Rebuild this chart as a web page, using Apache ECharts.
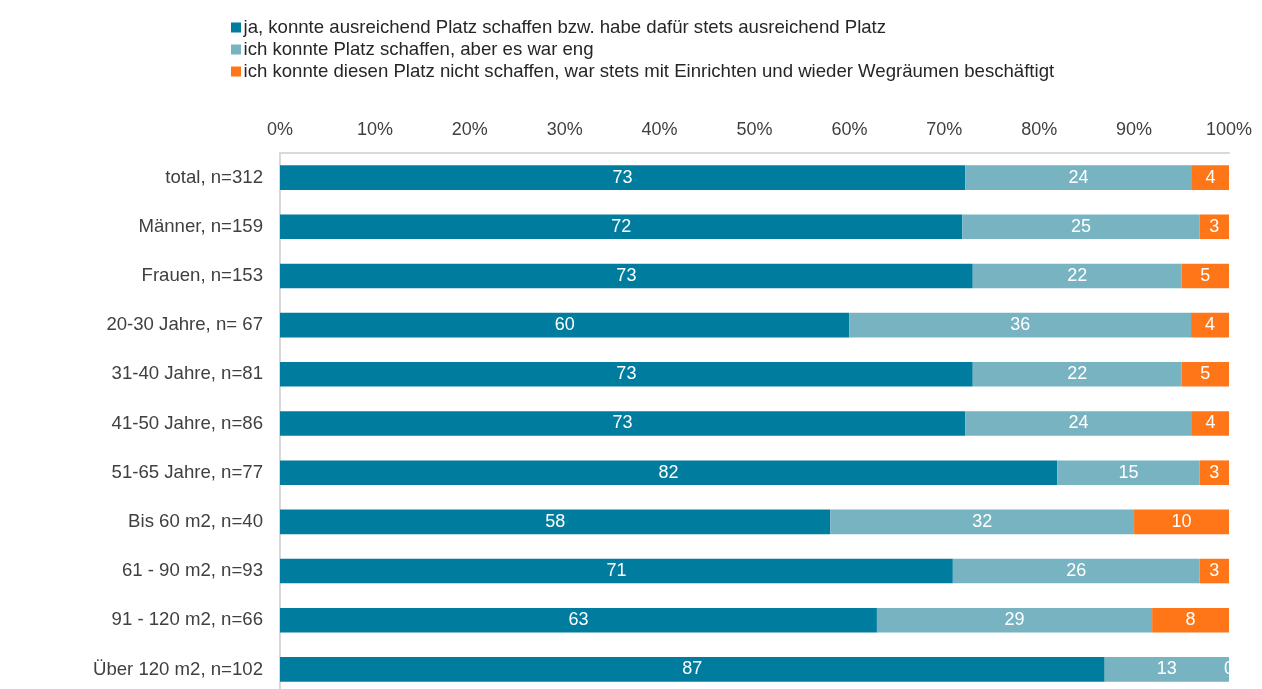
<!DOCTYPE html>
<html>
<head>
<meta charset="utf-8">
<script src="https://cdn.jsdelivr.net/npm/echarts@6/dist/echarts.min.js"></script>
<style>
html,body{margin:0;padding:0;background:#fff;overflow:hidden;}
#c{width:1262px;height:700px;}
</style>
</head>
<body>
<div id="c"></div>
<script>
const categories = ["total, n=312","Männer, n=159","Frauen, n=153","20-30 Jahre, n= 67","31-40 Jahre, n=81","41-50 Jahre, n=86","51-65 Jahre, n=77","Bis 60 m2, n=40","61 - 90 m2, n=93","91 - 120 m2, n=66","Über 120 m2, n=102"];
const seriesNames = ["ja, konnte ausreichend Platz schaffen bzw. habe dafür stets ausreichend Platz","ich konnte Platz schaffen, aber es war eng","ich konnte diesen Platz nicht schaffen, war stets mit Einrichten und wieder Wegräumen beschäftigt"];
// bar lengths (percent)
const valuesJa   = [72.2, 71.9, 73.0, 60.0, 73.0, 72.2, 81.9, 58.0, 70.9, 62.9, 86.9];
const valuesEng  = [23.9, 25.0, 22.0, 36.0, 22.0, 23.9, 15.0, 32.0, 26.0, 29.0, 13.1];
const valuesNein = [3.9, 3.1, 5.0, 4.0, 5.0, 3.9, 3.1, 10.0, 3.1, 8.1, 0];
// printed labels
const labelsJa   = [73, 72, 73, 60, 73, 73, 82, 58, 71, 63, 87];
const labelsEng  = [24, 25, 22, 36, 22, 24, 15, 32, 26, 29, 13];
const labelsNein = [4, 3, 5, 4, 5, 4, 3, 10, 3, 8, 0];
const xTicks = [0,10,20,30,40,50,60,70,80,90,100];

const colors = ["#007c9e", "#78b3c2", "#ff7619"];
const font = "Liberation Sans, Arial, sans-serif";
const chart = echarts.init(document.getElementById('c'), null, {renderer:'canvas'});
function mk(name, vals, labs, color){
  return {
    name: name, type: 'bar', stack: 'all', data: vals,
    barCategoryGap: '50%',
    itemStyle: {color: color},
    label: {show: true, position: 'inside', color: '#ffffff', fontSize: 18, fontFamily: font,
            formatter: p => String(labs[p.dataIndex])},
    emphasis: {disabled: true}
  };
}
chart.setOption({
  animation: false,
  textStyle: {fontFamily: font},
  legend: {
    orient: 'vertical', left: 231, top: 18, itemWidth: 10, itemHeight: 10, itemGap: 3,
    icon: 'rect', selectedMode: false, padding: 0,
    textStyle: {fontSize: 18.6, lineHeight: 18, color: '#262626', fontFamily: font, padding:[0,0,0,-2.5]},
    data: seriesNames
  },
  grid: {left: 280, right: 33, top: 153, bottom: 6, containLabel: false},
  xAxis: {
    type: 'value', position: 'top', min: 0, max: 100, interval: 10,
    axisLine: {show: true, lineStyle: {color: '#d9d9d9', width: 2}},
    axisTick: {show: false}, splitLine: {show: false},
    axisLabel: {fontSize: 18, color: '#404040', margin: 14, fontFamily: font,
      formatter: v => xTicks.includes(v) ? v + '%' : ''}
  },
  yAxis: {
    type: 'category', inverse: true, data: categories,
    axisLine: {show: true, lineStyle: {color: '#d9d9d9', width: 2}},
    axisTick: {show: false},
    axisLabel: {fontSize: 18.6, color: '#404040', margin: 17, fontFamily: font}
  },
  series: [
    mk(seriesNames[0], valuesJa, labelsJa, colors[0]),
    mk(seriesNames[1], valuesEng, labelsEng, colors[1]),
    mk(seriesNames[2], valuesNein, labelsNein, colors[2])
  ]
});
</script>
</body>
</html>
